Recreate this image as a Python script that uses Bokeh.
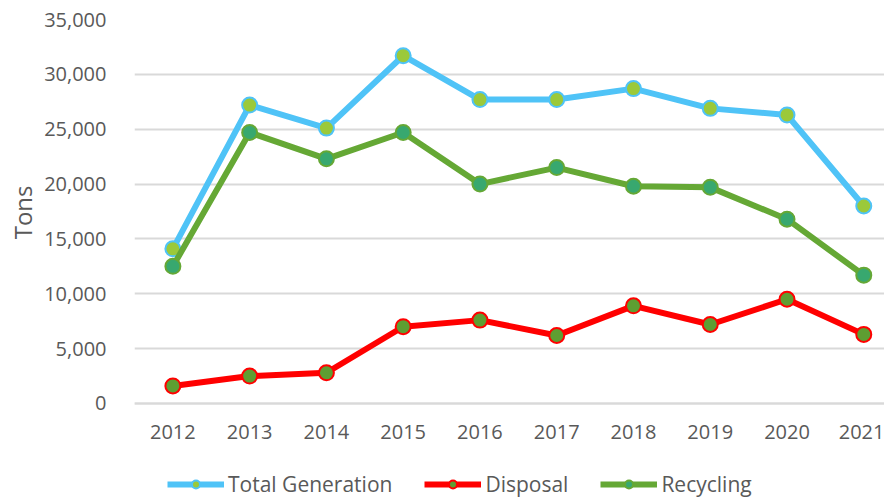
from bokeh.plotting import figure
from bokeh.models import Range1d, FixedTicker, Legend, LegendItem, NumeralTickFormatter, LinearAxis, Title
from bokeh.embed import file_html
from bokeh.resources import INLINE

years = [2012, 2013, 2014, 2015, 2016, 2017, 2018, 2019, 2020, 2021]
total_generation = [14100, 27200, 25100, 31700, 27700, 27700, 28700, 26900, 26300, 18000]
disposal = [1600, 2500, 2800, 7000, 7600, 6200, 8900, 7200, 9500, 6300]
recycling = [12500, 24700, 22300, 24700, 20000, 21500, 19800, 19700, 16800, 11700]
y_ticks = [0, 5000, 10000, 15000, 20000, 25000, 30000, 35000]

FONT = "Open Sans"
TXT = "#595959"
GRID = "#d9d9d9"

idx = list(range(len(years)))

p = figure(frame_width=750, frame_height=479, output_backend="svg", toolbar_location=None,
           x_range=Range1d(-0.5, 9.27), y_range=Range1d(-8659, 35000),
           x_axis_location=None,
           min_border_left=134, min_border_right=0, min_border_top=19, min_border_bottom=0)
p.outline_line_color = None
p.background_fill_color = "white"
p.border_fill_color = "white"

# x axis drawn at y = 0
xaxis = LinearAxis(fixed_location=0, ticker=FixedTicker(ticks=idx))
xaxis.major_label_overrides = {i: str(y) for i, y in zip(idx, years)}
xaxis.axis_line_color = GRID
xaxis.axis_line_width = 2
xaxis.major_tick_line_color = None
xaxis.minor_tick_line_color = None
xaxis.major_tick_out = 0
xaxis.major_label_text_font = FONT
xaxis.major_label_text_font_size = "20px"
xaxis.major_label_text_color = TXT
xaxis.major_label_standoff = 22
p.add_layout(xaxis, "below")

p.yaxis.ticker = FixedTicker(ticks=y_ticks)
p.yaxis.formatter = NumeralTickFormatter(format="0,0")
p.yaxis.axis_line_color = None
p.yaxis.major_tick_line_color = None
p.yaxis.minor_tick_line_color = None
p.yaxis.major_label_text_font = FONT
p.yaxis.major_label_text_font_size = "20px"
p.yaxis.major_label_text_color = TXT
p.yaxis.major_label_standoff = 22

ylabel = Title(text="Tons", align="right", offset=166, text_font=FONT,
               text_font_size="24px", text_font_style="normal", text_color=TXT, standoff=6)
p.add_layout(ylabel, "left")

p.xgrid.grid_line_color = None
p.ygrid.grid_line_color = GRID
p.ygrid.grid_line_width = 2

series = [
    ("Total Generation", total_generation, "#4fc3f7", "#9bc93a", "#4fc3f7"),
    ("Disposal", disposal, "#ff0000", "#5e9e32", "#ff0000"),
    ("Recycling", recycling, "#65a835", "#38a86f", "#65a835"),
]
items = []
for name, vals, lc, fc, oc in series:
    l = p.line(idx, vals, line_color=lc, line_width=6)
    c = p.scatter(idx, vals, size=15, fill_color=fc, line_color=oc, line_width=2)
    items.append(LegendItem(label=name, renderers=[l, c]))

legend = Legend(items=items, orientation="horizontal", location=(33, 0),
                label_text_font=FONT, label_text_font_size="21px", label_text_color=TXT,
                glyph_width=57, glyph_height=20, spacing=32, padding=0, margin=0,
                label_standoff=4, border_line_color=None, background_fill_alpha=0)
p.add_layout(legend, "center")

open("out.html", "w").write(file_html(p, INLINE))
